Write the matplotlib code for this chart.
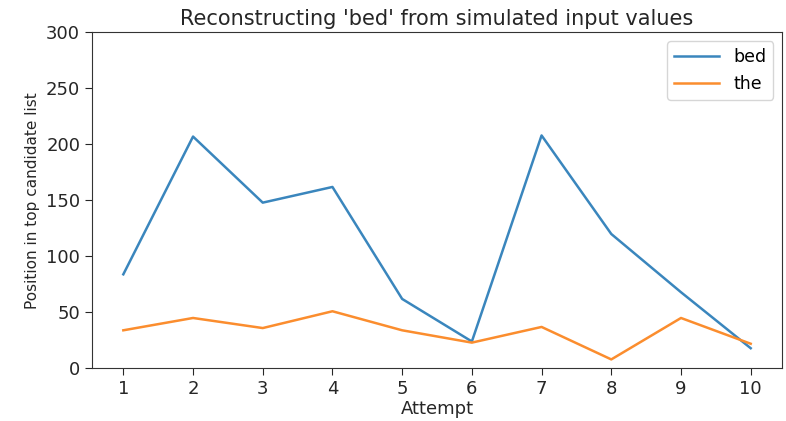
import matplotlib
matplotlib.use("Agg")
import matplotlib.pyplot as plt

# data
attempts = [1, 2, 3, 4, 5, 6, 7, 8, 9, 10]
bed_pos = [84, 207, 148, 162, 62, 24, 208, 120, 68, 18]
the_pos = [34, 45, 36, 51, 34, 23, 37, 8, 45, 22]

plt.rcParams['font.family'] = ['DejaVu Sans']

fig = plt.figure(figsize=(7.86, 4.21), dpi=100)
ax = fig.add_axes([0.117, 0.125, 0.878, 0.798])

ax.plot(attempts, bed_pos, color='#3a86bd', lw=1.8, label='bed')
ax.plot(attempts, the_pos, color='#fb8d2e', lw=1.8, label='the')

ax.set_ylim(0, 300)
ax.set_xticks(attempts)
ax.tick_params(labelsize=13, colors='#262626', length=5)
for s in ax.spines.values():
    s.set_color('#333333')

ax.set_title("Reconstructing 'bed' from simulated input values", fontsize=15, color='#262626', pad=5)
ax.set_xlabel('Attempt', fontsize=13, color='#262626', labelpad=1)
ax.set_ylabel('Position in top candidate list', fontsize=11, color='#262626')

ax.legend(loc='upper right', fontsize=12.5, handlelength=2.6)

fig.savefig('out.png', dpi=100)
